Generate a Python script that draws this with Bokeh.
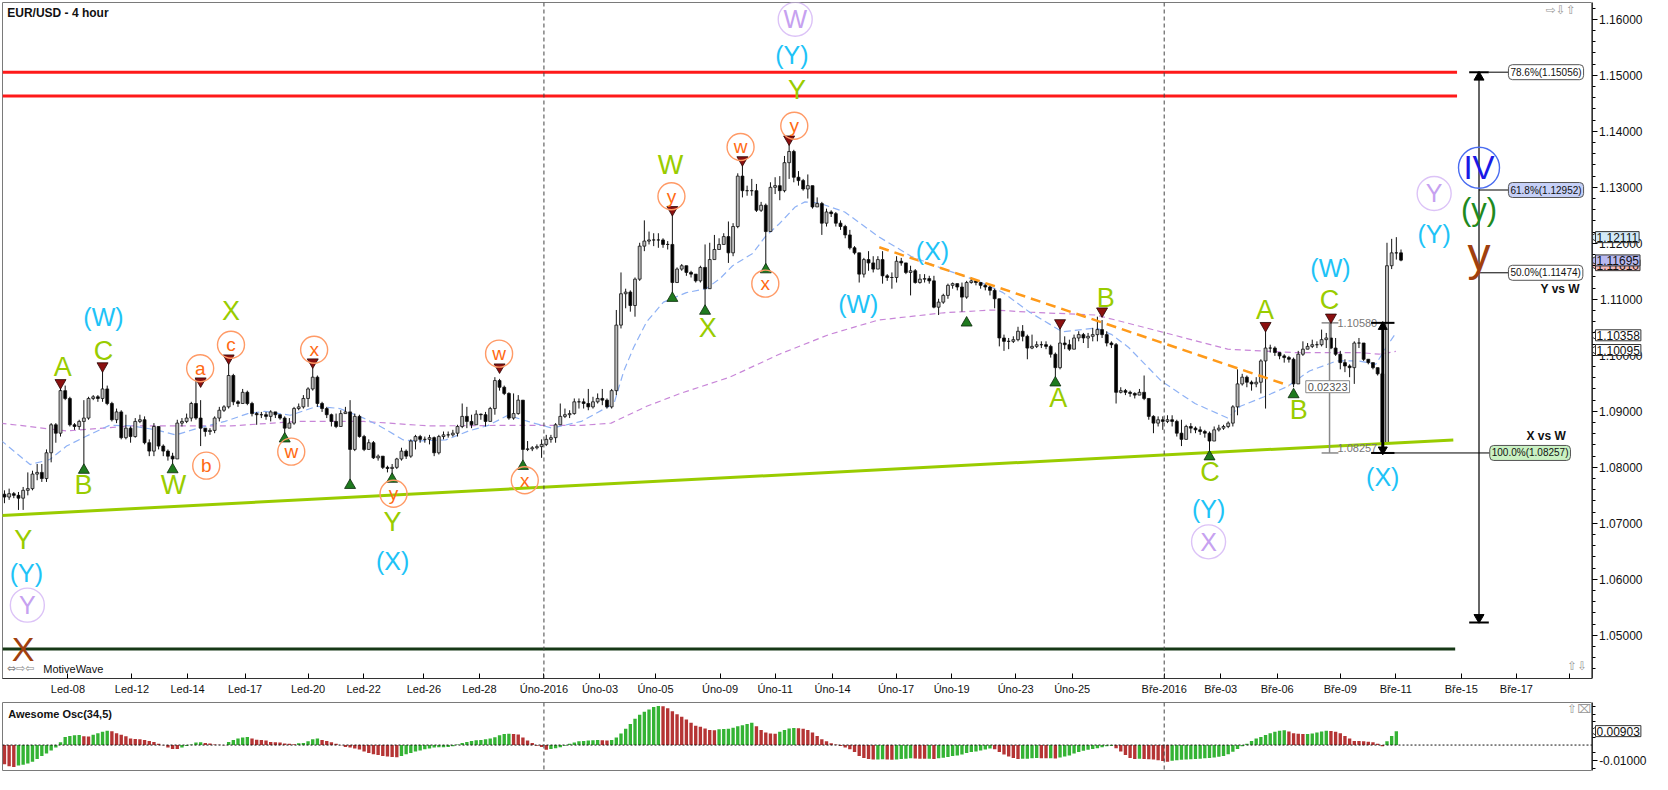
from bokeh.plotting import figure
from bokeh.models import (Range1d, FixedTicker, SingleIntervalTicker, PrintfTickFormatter,
                          Span, Label, ColumnDataSource)
from bokeh.layouts import column, row
from bokeh.embed import file_html
from bokeh.resources import INLINE
from bokeh.core.properties import value

FONT = "Liberation Sans"

# ---------------- price data (4h bars, EUR/USD) ----------------
closes = [
    1.0747, 1.0753, 1.0750, 1.0745, 1.0759, 1.0762, 1.0788, 1.0791, 1.0780, 1.0826,
    1.0876, 1.0861, 1.0937, 1.0923, 1.0876, 1.0873, 1.0882, 1.0888, 1.0923, 1.0926,
    1.0923, 1.0940, 1.0914, 1.0885, 1.0899, 1.0853, 1.0870, 1.0855, 1.0882, 1.0885,
    1.0844, 1.0829, 1.0873, 1.0838, 1.0829, 1.0820, 1.0815, 1.0879, 1.0882, 1.0888,
    1.0914, 1.0888, 1.0870, 1.0864, 1.0866, 1.0888, 1.0902, 1.0908, 1.0964, 1.0917,
    1.0914, 1.0934, 1.0914, 1.0896, 1.0894, 1.0894, 1.0891, 1.0899, 1.0894, 1.0888,
    1.0870, 1.0879, 1.0905, 1.0908, 1.0923, 1.0940, 1.0961, 1.0914, 1.0905, 1.0894,
    1.0882, 1.0873, 1.0896, 1.0899, 1.0832, 1.0891, 1.0855, 1.0832, 1.0844, 1.0817,
    1.0820, 1.0800, 1.0798, 1.0800, 1.0815, 1.0829, 1.0820, 1.0847, 1.0855, 1.0850,
    1.0850, 1.0853, 1.0826, 1.0855, 1.0858, 1.0858, 1.0861, 1.0873, 1.0891, 1.0882,
    1.0876, 1.0895, 1.0894, 1.0882, 1.0905, 1.0955, 1.0943, 1.0932, 1.0888, 1.0896,
    1.0920, 1.0832, 1.0833, 1.0835, 1.0837, 1.0841, 1.0850, 1.0853, 1.0876, 1.0891,
    1.0894, 1.0896, 1.0917, 1.0917, 1.0914, 1.0908, 1.0917, 1.0923, 1.0920, 1.0908,
    1.0937, 1.1054, 1.1110, 1.1113, 1.1089, 1.1136, 1.1195, 1.1204, 1.1206, 1.1206,
    1.1206, 1.1198, 1.1198, 1.1130, 1.1154, 1.1160, 1.1148, 1.1145, 1.1133, 1.1157,
    1.1119, 1.1171, 1.1189, 1.1198, 1.1212, 1.1183, 1.1230, 1.1320, 1.1294, 1.1294,
    1.1294, 1.1259, 1.1268, 1.1221, 1.1300, 1.1303, 1.1294, 1.1344, 1.1364, 1.1318,
    1.1312, 1.1297, 1.1303, 1.1265, 1.1271, 1.1236, 1.1256, 1.1253, 1.1236, 1.1230,
    1.1215, 1.1192, 1.1183, 1.1145, 1.1171, 1.1165, 1.1154, 1.1171, 1.1142, 1.1139,
    1.1139, 1.1168, 1.1165, 1.1148, 1.1151, 1.1130, 1.1136, 1.1137, 1.1133, 1.1086,
    1.1095, 1.1107, 1.1125, 1.1128, 1.1122, 1.1104, 1.1130, 1.1133, 1.1130, 1.1125,
    1.1122, 1.1116, 1.1101, 1.1031, 1.1025, 1.1025, 1.1028, 1.1043, 1.1034, 1.1013,
    1.1016, 1.1019, 1.1019, 1.1016, 1.1002, 1.0978, 1.1022, 1.1019, 1.1011, 1.1031,
    1.1037, 1.1031, 1.1034, 1.1037, 1.1046, 1.1037, 1.1022, 1.1019, 1.0934, 1.0937,
    1.0934, 1.0932, 1.0929, 1.0934, 1.0923, 1.0891, 1.0879, 1.0885, 1.0882, 1.0885,
    1.0882, 1.0861, 1.0850, 1.0873, 1.0870, 1.0867, 1.0864, 1.0861, 1.0847, 1.0867,
    1.0870, 1.0873, 1.0879, 1.0908, 1.0949, 1.0961, 1.0952, 1.0949, 1.0952, 1.0990,
    1.1013, 1.1013, 1.1005, 1.0999, 1.0996, 1.0993, 1.0949, 1.1002, 1.1011, 1.1016,
    1.1019, 1.1019, 1.1028, 1.1031, 1.1013, 1.1002, 1.0987, 1.0981, 1.0978, 1.1022,
    1.1022, 1.0993, 1.0987, 1.0978, 1.0967, 1.0844, 1.1160, 1.1183, 1.1183, 1.1170,
]
highs = [
    1.0759, 1.0762, 1.0756, 1.0756, 1.0765, 1.0791, 1.0794, 1.0806, 1.0806, 1.0832,
    1.0879, 1.0879, 1.0949, 1.0946, 1.0926, 1.0879, 1.0885, 1.0920, 1.0926, 1.0929,
    1.0929, 1.0975, 1.0946, 1.0917, 1.0905, 1.0902, 1.0894, 1.0873, 1.0888, 1.0894,
    1.0891, 1.0850, 1.0879, 1.0858, 1.0841, 1.0832, 1.0826, 1.0885, 1.0888, 1.0896,
    1.0917, 1.0958, 1.0920, 1.0870, 1.0870, 1.0891, 1.0908, 1.0911, 1.0990, 1.0967,
    1.0920, 1.0940, 1.0937, 1.0917, 1.0899, 1.0899, 1.0899, 1.0902, 1.0899, 1.0894,
    1.0891, 1.0888, 1.0908, 1.0914, 1.0929, 1.0943, 1.0978, 1.0964, 1.0917, 1.0908,
    1.0896, 1.0896, 1.0902, 1.0908, 1.0920, 1.0896, 1.0894, 1.0858, 1.0850, 1.0847,
    1.0823, 1.0820, 1.0803, 1.0806, 1.0817, 1.0835, 1.0832, 1.0850, 1.0858, 1.0858,
    1.0855, 1.0858, 1.0855, 1.0858, 1.0864, 1.0864, 1.0867, 1.0876, 1.0914, 1.0908,
    1.0894, 1.0902, 1.0896, 1.0899, 1.0908, 1.0961, 1.0958, 1.0946, 1.0934, 1.0932,
    1.0929, 1.0920, 1.0847, 1.0838, 1.0841, 1.0850, 1.0858, 1.0858, 1.0879, 1.0914,
    1.0905, 1.0902, 1.0923, 1.0923, 1.0923, 1.0940, 1.0926, 1.0932, 1.0940, 1.0923,
    1.0940, 1.1081, 1.1148, 1.1119, 1.1116, 1.1139, 1.1201, 1.1241, 1.1221, 1.1218,
    1.1218, 1.1209, 1.1204, 1.1259, 1.1157, 1.1163, 1.1160, 1.1151, 1.1145, 1.1160,
    1.1198, 1.1201, 1.1215, 1.1209, 1.1218, 1.1239, 1.1236, 1.1325, 1.1347, 1.1303,
    1.1315, 1.1306, 1.1274, 1.1271, 1.1309, 1.1318, 1.1320, 1.1356, 1.1379, 1.1367,
    1.1329, 1.1315, 1.1323, 1.1300, 1.1282, 1.1274, 1.1262, 1.1259, 1.1256, 1.1241,
    1.1233, 1.1224, 1.1195, 1.1183, 1.1174, 1.1186, 1.1177, 1.1177, 1.1186, 1.1145,
    1.1148, 1.1177, 1.1174, 1.1165, 1.1160, 1.1154, 1.1145, 1.1145, 1.1142, 1.1142,
    1.1101, 1.1110, 1.1128, 1.1130, 1.1125, 1.1130, 1.1133, 1.1139, 1.1133, 1.1130,
    1.1128, 1.1125, 1.1119, 1.1095, 1.1037, 1.1031, 1.1034, 1.1051, 1.1054, 1.1037,
    1.1037, 1.1025, 1.1025, 1.1025, 1.1019, 1.1005, 1.1051, 1.1034, 1.1028, 1.1037,
    1.1043, 1.1040, 1.1040, 1.1049, 1.1069, 1.1063, 1.1043, 1.1025, 1.1022, 1.0943,
    1.0940, 1.0937, 1.0934, 1.0940, 1.0964, 1.0923, 1.0893, 1.0891, 1.0891, 1.0893,
    1.0893, 1.0885, 1.0885, 1.0876, 1.0879, 1.0873, 1.0873, 1.0867, 1.0864, 1.0873,
    1.0876, 1.0876, 1.0882, 1.0911, 1.0975, 1.0967, 1.0964, 1.0955, 1.0961, 1.0993,
    1.1054, 1.1019, 1.1016, 1.1005, 1.1002, 1.0999, 1.0996, 1.1008, 1.1025, 1.1022,
    1.1028, 1.1025, 1.1046, 1.1040, 1.1066, 1.1031, 1.1008, 1.0993, 1.0984, 1.1025,
    1.1031, 1.1008, 1.0990, 1.0987, 1.0975, 1.0970, 1.1201, 1.1208, 1.1211, 1.1189,
]
lows = [
    1.0736, 1.0742, 1.0745, 1.0724, 1.0724, 1.0750, 1.0759, 1.0777, 1.0774, 1.0774,
    1.0809, 1.0844, 1.0855, 1.0920, 1.0873, 1.0867, 1.0867, 1.0800, 1.0885, 1.0920,
    1.0917, 1.0917, 1.0911, 1.0882, 1.0879, 1.0850, 1.0850, 1.0844, 1.0853, 1.0879,
    1.0841, 1.0820, 1.0820, 1.0832, 1.0820, 1.0812, 1.0806, 1.0815, 1.0873, 1.0879,
    1.0882, 1.0885, 1.0838, 1.0855, 1.0858, 1.0861, 1.0882, 1.0899, 1.0905, 1.0911,
    1.0908, 1.0914, 1.0911, 1.0891, 1.0876, 1.0888, 1.0885, 1.0882, 1.0888, 1.0885,
    1.0853, 1.0873, 1.0876, 1.0902, 1.0905, 1.0908, 1.0937, 1.0908, 1.0899, 1.0888,
    1.0873, 1.0870, 1.0873, 1.0896, 1.0768, 1.0829, 1.0853, 1.0829, 1.0832, 1.0815,
    1.0812, 1.0797, 1.0791, 1.0785, 1.0797, 1.0812, 1.0815, 1.0817, 1.0832, 1.0844,
    1.0844, 1.0841, 1.0820, 1.0823, 1.0850, 1.0853, 1.0855, 1.0855, 1.0870, 1.0870,
    1.0870, 1.0891, 1.0885, 1.0873, 1.0894, 1.0894, 1.0937, 1.0929, 1.0885, 1.0885,
    1.0894, 1.0812, 1.0829, 1.0829, 1.0832, 1.0817, 1.0838, 1.0844, 1.0844, 1.0879,
    1.0888, 1.0888, 1.0894, 1.0905, 1.0905, 1.0902, 1.0905, 1.0914, 1.0911, 1.0905,
    1.0905, 1.0929, 1.1048, 1.1084, 1.1078, 1.1069, 1.1133, 1.1186, 1.1198, 1.1195,
    1.1192, 1.1192, 1.1189, 1.1110, 1.1130, 1.1151, 1.1142, 1.1139, 1.1130, 1.1130,
    1.1081, 1.1119, 1.1171, 1.1192, 1.1201, 1.1165, 1.1177, 1.1227, 1.1282, 1.1285,
    1.1285, 1.1256, 1.1256, 1.1154, 1.1221, 1.1288, 1.1277, 1.1291, 1.1315, 1.1309,
    1.1303, 1.1294, 1.1280, 1.1262, 1.1265, 1.1215, 1.1230, 1.1247, 1.1230, 1.1224,
    1.1209, 1.1189, 1.1180, 1.1130, 1.1139, 1.1151, 1.1148, 1.1154, 1.1128, 1.1133,
    1.1119, 1.1130, 1.1160, 1.1145, 1.1107, 1.1128, 1.1128, 1.1130, 1.1128, 1.1084,
    1.1072, 1.1092, 1.1101, 1.1119, 1.1116, 1.1078, 1.1101, 1.1128, 1.1125, 1.1119,
    1.1116, 1.1107, 1.1084, 1.1016, 1.1008, 1.1011, 1.1022, 1.1025, 1.1025, 1.0993,
    1.1011, 1.1013, 1.1013, 1.1011, 1.0996, 1.0961, 1.0975, 1.1011, 1.1008, 1.1011,
    1.1025, 1.1022, 1.1013, 1.1025, 1.1025, 1.1031, 1.1016, 1.1013, 1.0914, 1.0932,
    1.0929, 1.0926, 1.0923, 1.0929, 1.0920, 1.0885, 1.0861, 1.0873, 1.0867, 1.0879,
    1.0873, 1.0855, 1.0838, 1.0850, 1.0861, 1.0861, 1.0858, 1.0853, 1.0829, 1.0847,
    1.0864, 1.0867, 1.0870, 1.0873, 1.0893, 1.0946, 1.0943, 1.0937, 1.0943, 1.0932,
    1.0905, 1.1005, 1.0999, 1.0993, 1.0987, 1.0987, 1.0943, 1.0949, 1.0999, 1.1011,
    1.1013, 1.1013, 1.1016, 1.1013, 1.1011, 1.0999, 1.0975, 1.0970, 1.0961, 1.0949,
    1.1013, 1.0990, 1.0984, 1.0975, 1.0964, 1.0826, 1.0847, 1.1154, 1.1171, 1.1168,
]
first_open = 1.0752

# moving averages (bar index, price)
blue_ma_x = [-0.85, 5.5, 9.7, 13.3, 17.6, 22.5, 27.3, 32.4, 36.7, 41.5, 47.2, 52.1, 55.7, 61.2, 66.9,
             71.8, 76.9, 80.3, 85.4, 88.1, 94.5, 99.4, 103.6, 107.8, 112.1, 117.2, 123.5, 130.5,
             132.6, 134.7, 137.5, 141.1, 146.0, 150.2, 153.2, 155.9, 160.2, 162.9, 165.9, 169.3,
             171.4, 174.4, 179.9, 187.1, 194.1, 201.1, 208.3, 213.8, 219.5, 226.5, 233.7, 237.1,
             240.7, 247.7, 254.9, 261.9, 264.6, 269.7, 274.6, 279.4, 285.2, 290.0, 293.6, 295.8, 297.9]
blue_ma_y = [1.0849, 1.0805, 1.0814, 1.0838, 1.0856, 1.0875, 1.0874, 1.0867, 1.0858, 1.0870, 1.0882,
             1.0896, 1.0900, 1.0893, 1.0909, 1.0905, 1.0888, 1.0874, 1.0849, 1.0847, 1.0849, 1.0865,
             1.0875, 1.0893, 1.0882, 1.0870, 1.0882, 1.0914, 1.0972, 1.1014, 1.1060, 1.1095, 1.1112,
             1.1119, 1.1137, 1.1160, 1.1182, 1.1212, 1.1235, 1.1265, 1.1274, 1.1272, 1.1256, 1.1212,
             1.1177, 1.1154, 1.1133, 1.1112, 1.1077, 1.1042, 1.1049, 1.1037, 1.1014, 1.0954, 1.0914,
             1.0888, 1.0909, 1.0926, 1.0944, 1.0972, 1.0990, 1.0990, 1.0984, 1.1014, 1.1040]
purple_ma_x = [-0.85, 13.3, 27.3, 48.5, 62.7, 76.9, 90.9, 108.7, 123.5, 129.9, 137.5, 144.7, 155.3,
               165.9, 176.5, 187.1, 201.1, 211.7, 219.5, 233.7, 247.7, 261.9, 276.1, 290.0, 294.3, 297.9]
purple_ma_y = [1.0879, 1.0865, 1.0874, 1.0874, 1.0882, 1.0882, 1.0874, 1.0875, 1.0875, 1.0879, 1.0909,
               1.0932, 1.0961, 1.1002, 1.1037, 1.1063, 1.1076, 1.1081, 1.1077, 1.1072, 1.1042, 1.1011,
               1.1005, 1.1005, 1.1002, 1.1007]

# Awesome oscillator (34,5)
ao_values = [
    -0.0124, -0.0137, -0.0143, -0.0133, -0.0127, -0.0120, -0.0108, -0.0090, -0.0071, -0.0055,
    -0.0035, -0.0016, 0.0018, 0.0053, 0.0059, 0.0063, 0.0065, 0.0057, 0.0055, 0.0067,
    0.0076, 0.0086, 0.0092, 0.0090, 0.0076, 0.0067, 0.0057, 0.0043, 0.0039, 0.0037,
    0.0033, 0.0027, 0.0020, 0.0008, -0.0002, -0.0016, -0.0025, -0.0026, -0.0016, -0.0006,
    0.0004, 0.0016, 0.0018, 0.0014, 0.0010, 0.0004, 0.0002, -0.0001, 0.0020, 0.0033,
    0.0043, 0.0049, 0.0053, 0.0043, 0.0035, 0.0033, 0.0029, 0.0020, 0.0018, 0.0016,
    0.0010, 0.0008, 0.0006, 0.0012, 0.0014, 0.0024, 0.0037, 0.0043, 0.0033, 0.0027,
    0.0018, 0.0008, -0.0001, -0.0012, -0.0016, -0.0022, -0.0029, -0.0041, -0.0051, -0.0059,
    -0.0065, -0.0071, -0.0075, -0.0078, -0.0079, -0.0071, -0.0059, -0.0051, -0.0041, -0.0035,
    -0.0027, -0.0022, -0.0016, -0.0015, -0.0014, -0.0012, -0.0008, 0.0004, 0.0014, 0.0020,
    0.0027, 0.0031, 0.0033, 0.0037, 0.0043, 0.0051, 0.0063, 0.0071, 0.0073, 0.0072,
    0.0069, 0.0049, 0.0029, 0.0014, -0.0004, -0.0012, -0.0031, -0.0025, -0.0020, -0.0014,
    -0.0004, 0.0008, 0.0016, 0.0024, 0.0027, 0.0030, 0.0031, 0.0032, 0.0031, 0.0030,
    0.0033, 0.0049, 0.0075, 0.0106, 0.0137, 0.0171, 0.0196, 0.0216, 0.0231, 0.0247,
    0.0253, 0.0251, 0.0239, 0.0220, 0.0200, 0.0184, 0.0165, 0.0145, 0.0125, 0.0118,
    0.0108, 0.0098, 0.0096, 0.0102, 0.0104, 0.0106, 0.0112, 0.0122, 0.0129, 0.0137,
    0.0145, 0.0122, 0.0098, 0.0082, 0.0075, 0.0073, 0.0086, 0.0098, 0.0108, 0.0110,
    0.0109, 0.0106, 0.0098, 0.0082, 0.0059, 0.0037, 0.0024, 0.0012, 0.0004, -0.0006,
    -0.0016, -0.0027, -0.0045, -0.0071, -0.0084, -0.0090, -0.0094, -0.0093, -0.0092, -0.0094,
    -0.0095, -0.0093, -0.0090, -0.0088, -0.0086, -0.0087, -0.0088, -0.0089, -0.0089, -0.0090,
    -0.0086, -0.0082, -0.0078, -0.0071, -0.0067, -0.0061, -0.0051, -0.0045, -0.0041, -0.0035,
    -0.0029, -0.0022, -0.0027, -0.0045, -0.0061, -0.0075, -0.0084, -0.0090, -0.0089, -0.0088,
    -0.0085, -0.0084, -0.0085, -0.0086, -0.0086, -0.0087, -0.0080, -0.0075, -0.0067, -0.0055,
    -0.0045, -0.0037, -0.0031, -0.0025, -0.0020, -0.0014, -0.0008, -0.0006, -0.0020, -0.0041,
    -0.0065, -0.0084, -0.0090, -0.0089, -0.0091, -0.0092, -0.0094, -0.0098, -0.0104, -0.0108,
    -0.0102, -0.0098, -0.0096, -0.0094, -0.0092, -0.0090, -0.0088, -0.0086, -0.0084, -0.0080,
    -0.0076, -0.0071, -0.0059, -0.0043, -0.0025, -0.0008, 0.0008, 0.0027, 0.0043, 0.0053,
    0.0065, 0.0076, 0.0086, 0.0092, 0.0096, 0.0088, 0.0076, 0.0073, 0.0071, 0.0072,
    0.0075, 0.0082, 0.0088, 0.0092, 0.0091, 0.0086, 0.0076, 0.0059, 0.0043, 0.0027,
    0.0026, 0.0025, 0.0022, 0.0018, 0.0008, -0.0008, 0.0025, 0.0059, 0.0090,
]

# date axis (bar index positions of the labels)
tick_pos = [13.6, 27.3, 39.2, 51.5, 65.0, 76.9, 89.8, 101.7, 115.5, 127.5, 139.4, 153.2, 165.0,
            177.3, 190.9, 202.8, 216.5, 228.6, 248.3, 260.4, 272.5, 286.0, 297.9, 311.9, 323.7, 335.0]
tick_labels = ["Led-08", "Led-12", "Led-14", "Led-17", "Led-20", "Led-22", "Led-26", "Led-28",
               "Úno-2016", "Úno-03", "Úno-05", "Úno-09", "Úno-11", "Úno-14", "Úno-17", "Úno-19",
               "Úno-23", "Úno-25", "Bře-2016", "Bře-03", "Bře-06", "Bře-09", "Bře-11", "Bře-15",
               "Bře-17", ""]
month_breaks = [115.5, 248.3]

# wave labels
wave_text = ["A", "C", "B", "W", "X", "Y", "Y", "W", "Y", "X", "A", "B", "C", "A", "B", "C",
             "(W)", "(Y)", "(X)", "(Y)", "(X)", "(W)", "(Y)", "(W)", "(X)", "(Y)",
             "a", "b", "c", "x", "w", "y", "w", "x", "y", "w", "y", "x",
             "Y", "W", "X", "Y",
             "X", "IV", "(y)", "y"]
wave_x = [12.5, 21.2, 16.9, 36.2, 48.5, 4.0, 83.1, 142.6, 169.7, 150.6, 225.6, 235.8, 258.1, 269.9, 277.1, 283.7,
          21.2, 4.7, 83.1, 168.6, 198.7, 182.8, 257.8, 283.9, 295.1, 306.1,
          41.9, 43.2, 48.5, 66.3, 61.4, 83.3, 105.9, 111.4, 142.8, 157.6, 169.1, 162.9,
          4.9, 169.3, 257.8, 306.1,
          4.0, 315.7, 315.7, 315.7]
wave_y = [1.0979, 1.1007, 1.0768, 1.0768, 1.1079, 1.0670, 1.0703, 1.1340, 1.1474, 1.1049, 1.0923, 1.1103,
          1.0791, 1.1081, 1.0902, 1.1098,
          1.1068, 1.0612, 1.0633, 1.1537, 1.1186, 1.1091, 1.0725, 1.1156, 1.0782, 1.1217,
          1.0977, 1.0803, 1.1019, 1.1010, 1.0828, 1.0753, 1.1003, 1.0777, 1.1284, 1.1372, 1.1410, 1.1128,
          1.0554, 1.1600, 1.0667, 1.1289,
          1.0475, 1.1335, 1.1261, 1.1181]
wave_kind = (["green"] * 16 + ["cyan"] * 10 + ["orange"] * 12 + ["purple"] * 4 +
             ["brown", "blue", "darkgreen", "brown_big"])

pivot_low_x = [17, 36, 60, 74, 83, 111, 143, 150, 163, 206, 225, 258, 276]
pivot_low_y = [1.0795, 1.0796, 1.0851, 1.0768, 1.0779, 1.0802, 1.1102, 1.1079, 1.1153, 1.1058, 1.0951, 1.0819, 1.0930]
pivot_high_x = [12, 21, 42, 48, 66, 106, 143, 158, 168, 226, 235, 270, 284]
pivot_high_y = [1.0951, 1.0981, 1.0954, 1.0995, 1.0988, 1.0979, 1.1260, 1.1349, 1.1386, 1.1058, 1.1079, 1.1053, 1.1068]

resistance_levels = [1.15053, 1.14632]
support_level = 1.04755
trend_x = [-0.85, 310.2]
trend_y = [1.0714, 1.0849]
orange_x = [187.3, 275.0]
orange_y = [1.1193, 1.0946]

fib_levels = [1.15056, 1.12952, 1.11474, 1.08257]
fib_texts = ["78.6%(1.15056)", "61.8%(1.12952)", "50.0%(1.11474)", "100.0%(1.08257)"]
fib_fills = ["white", "#c6d0f7", "white", "#c9f1c2"]
fib_bottom = 1.0523
measure_top = 1.10580
measure_low = 1.08257
measure_size = "0.02323"

axis_tags = [1.11610, 1.12111, 1.11695, 1.10358, 1.10095]
axis_tag_fills = ["#f3b9b9", "#d3eaf8", "#b9b9f0", "white", "white"]
ao_last = 0.00903

# ---------------- styling maps ----------------
kind_style = {
    "green": ("#99cc00", "27px"), "cyan": ("#1ec3f7", "25px"), "orange": ("#ff6a13", "19px"),
    "purple": ("#c6a1f0", "25px"), "blue": ("#1a1ae6", "33px"), "darkgreen": ("#1f8a1f", "31px"),
    "brown": ("#a0400e", "34px"), "brown_big": ("#a0400e", "46px"),
}
circle_style = {"orange": ("#ff9a66", 27), "purple": ("#dcc3f7", 34), "blue": ("#4a6cf0", 41)}

MAIN_W, AXIS_W = 1592, 60
TOP_H, OSC_H = 700, 72


def style_price_axis(ax, standoff):
    ax.formatter = PrintfTickFormatter(format="%.5f")
    ax.major_label_text_font = FONT
    ax.major_label_text_font_size = "12px"
    ax.major_label_text_color = "#111111"
    ax.major_tick_in = 5
    ax.major_tick_out = 0
    ax.minor_tick_in = 3
    ax.minor_tick_out = 0
    ax.major_label_standoff = standoff
    ax.axis_line_color = "#333333"


def add_tag(fig, y, text, fill):
    fig.scatter([1.6], [y], marker="triangle", angle=1.5708, size=9, fill_color=fill, line_color="#333333")
    fig.add_layout(Label(x=3.0, y=y, text=text, text_font=FONT, text_font_size="12px",
                         text_color="#111111", text_align="left", text_baseline="middle",
                         background_fill_color=fill, border_line_color="#333333", padding=1))


# ---------------- main price panel ----------------
X0, X1 = -0.42, 340.0
p = figure(width=MAIN_W, height=TOP_H, x_range=Range1d(X0, X1), y_range=Range1d(1.0423, 1.1630),
           output_backend="svg", toolbar_location=None, y_axis_location=None,
           min_border_left=2, min_border_right=0, min_border_top=2, min_border_bottom=22)
p.xgrid.visible = False
p.ygrid.visible = False
p.outline_line_color = "#7a7a7a"

xax = p.xaxis[0]
xax.ticker = FixedTicker(ticks=tick_pos)
xax.major_label_overrides = {t: l for t, l in zip(tick_pos, tick_labels)}
xax.major_label_text_font = FONT
xax.major_label_text_font_size = "11px"
xax.major_label_text_color = "#111111"
xax.major_tick_in = 5
xax.major_tick_out = 0
xax.minor_tick_line_color = None
xax.major_label_standoff = 4
xax.axis_line_color = "#333333"

for m in month_breaks:
    p.add_layout(Span(location=m, dimension="height", line_color="#444444", line_dash="4 3", line_width=1))

# horizontal levels
for lv in resistance_levels:
    p.segment(x0=X0, y0=lv, x1=311.0, y1=lv, line_color="#ff1a1a", line_width=3)
p.segment(x0=X0, y0=support_level, x1=310.6, y1=support_level, line_color="#163816", line_width=3)

# moving averages
p.line(purple_ma_x, purple_ma_y, line_color="#c886d8", line_width=1.2, line_dash="6 4")
p.line(blue_ma_x, blue_ma_y, line_color="#8fb2f5", line_width=1.2, line_dash="7 4")

# candles
bars = list(range(len(closes)))
opens = [first_open] + closes[:-1]
src = ColumnDataSource(dict(
    x=bars,
    top=[max(o, c) for o, c in zip(opens, closes)],
    bottom=[min(o, c) for o, c in zip(opens, closes)],
    hi=[max(h, o, c) for h, o, c in zip(highs, opens, closes)],
    lo=[min(l, o, c) for l, o, c in zip(lows, opens, closes)],
    fill=["#bdbdbd" if c >= o else "#000000" for o, c in zip(opens, closes)],
))
p.segment(x0="x", y0="lo", x1="x", y1="hi", source=src, line_color="#111111", line_width=1)
p.vbar(x="x", top="top", bottom="bottom", width=0.62, source=src,
       fill_color="fill", line_color="#111111", line_width=0.8)

# trend lines
p.line(trend_x, trend_y, line_color="#99cc00", line_width=3)
p.line(orange_x, orange_y, line_color="#ff9a1a", line_width=2.5, line_dash="10 6")

# measure tool (gray)
p.segment(x0=283.7, y0=measure_low, x1=283.7, y1=measure_top, line_color="#888888", line_width=1.5)
for lv in (measure_top, measure_low):
    p.segment(x0=282.0, y0=lv, x1=285.6, y1=lv, line_color="#888888", line_width=1.5)
p.text(x=[285.4, 285.4], y=[measure_top, measure_low + 0.0009], text=["1.10580", "1.08257"],
       text_font=value(FONT), text_font_size="11px", text_color="#777777",
       text_align="left", text_baseline="middle")
p.add_layout(Label(x=283.3, y=1.0944, text=measure_size, text_font=FONT, text_font_size="11px",
                   text_color="#555555", text_align="center", text_baseline="middle",
                   background_fill_color="white", border_line_color="#888888", padding=2))

# X-vs-W measure (black)
p.segment(x0=295.1, y0=measure_low, x1=295.1, y1=measure_top, line_color="black", line_width=3)
for lv in (measure_top, measure_low):
    p.segment(x0=292.6, y0=lv, x1=297.6, y1=lv, line_color="black", line_width=2)
p.scatter([295.1], [measure_top - 0.0007], marker="triangle", size=9, fill_color="black", line_color="black")
p.scatter([295.1], [measure_low + 0.0006], marker="inverted_triangle", size=9, fill_color="black", line_color="black")

# Fibonacci projection
FX = 315.7
p.segment(x0=FX, y0=fib_levels[0], x1=FX, y1=fib_bottom, line_color="black", line_width=1.2)
for lv in (fib_levels[0], fib_bottom):
    p.segment(x0=313.6, y0=lv, x1=317.8, y1=lv, line_color="black", line_width=2)
p.scatter([FX], [fib_levels[0] - 0.0009], marker="triangle", size=10, fill_color="black", line_color="black")
p.scatter([FX], [fib_bottom + 0.0009], marker="inverted_triangle", size=10, fill_color="black", line_color="black")
p.segment(x0=[317.8, FX, FX, 293.6], y0=fib_levels, x1=[322.0, 322.0, 322.0, 318.0], y1=fib_levels,
          line_color="black", line_width=1)
for lv, t, f, fx in zip(fib_levels, fib_texts, fib_fills, [322.0, 322.0, 322.0, 318.0]):
    p.add_layout(Label(x=fx, y=lv, text=t, text_font=FONT, text_font_size="10px", text_color="#111111",
                       text_align="left", text_baseline="middle", background_fill_color=f,
                       border_line_color="#555555", padding=2, border_radius=4))
p.text(x=[337.3, 334.3], y=[1.1119, 1.0856], text=["Y vs W", "X vs W"], text_font=value(FONT),
       text_font_size="12px", text_font_style="bold", text_color="#111111",
       text_align="right", text_baseline="middle")

# pivots
p.scatter(pivot_low_x, pivot_low_y, marker="triangle", size=11, fill_color="#1f7a1f", line_color="#0b2a0b", line_width=0.8)
p.scatter(pivot_high_x, pivot_high_y, marker="inverted_triangle", size=11, fill_color="#8b1010", line_color="#2a0505", line_width=0.8)

# wave labels
circ_x, circ_y, circ_c, circ_s = [], [], [], []
for x, y, k in zip(wave_x, wave_y, wave_kind):
    if k in circle_style:
        circ_x.append(x)
        circ_y.append(y)
        circ_c.append(circle_style[k][0])
        circ_s.append(circle_style[k][1])
p.scatter(circ_x, circ_y, size=circ_s, marker="circle", fill_alpha=0, line_color=circ_c, line_width=1.4)
wsrc = ColumnDataSource(dict(x=wave_x, y=wave_y, text=wave_text,
                             color=[kind_style[k][0] for k in wave_kind],
                             size=[kind_style[k][1] for k in wave_kind]))
p.text(x="x", y="y", text="text", source=wsrc, text_color="color", text_font_size="size",
       text_font=value(FONT), text_align="center", text_baseline="middle")

# captions
p.add_layout(Label(x=0.6, y=1.1612, text="EUR/USD - 4 hour", text_font=FONT, text_font_size="12px",
                   text_font_style="bold", text_color="#111111", text_baseline="middle"))
p.add_layout(Label(x=0.5, y=1.0440, text="⇔⇨⇦", text_font="DejaVu Sans", text_font_size="11px",
                   text_color="#888888", text_baseline="middle"))
p.add_layout(Label(x=8.3, y=1.0440, text="MotiveWave", text_font=FONT, text_font_size="11px",
                   text_color="#111111", text_baseline="middle"))
p.add_layout(Label(x=330.0, y=1.1616, text="⇨⇩⇧", text_font="DejaVu Sans", text_font_size="12px",
                   text_color="#999999", text_baseline="middle"))
p.add_layout(Label(x=334.6, y=1.0445, text="⇧⇩", text_font="DejaVu Sans", text_font_size="12px",
                   text_color="#999999", text_baseline="middle"))

# ---------------- price axis strip (real axis + last-value tags) ----------------
pr = figure(width=AXIS_W, height=TOP_H, x_range=Range1d(0, AXIS_W), y_range=p.y_range,
            output_backend="svg", toolbar_location=None, y_axis_location="left",
            min_border_left=0, min_border_right=0, min_border_top=2, min_border_bottom=22)
pr.xaxis.visible = False
pr.xgrid.visible = False
pr.ygrid.visible = False
pr.outline_line_color = None
pr.yaxis[0].ticker = SingleIntervalTicker(interval=0.01, num_minor_ticks=5)
style_price_axis(pr.yaxis[0], -50)
for lv, f in zip(axis_tags, axis_tag_fills):
    add_tag(pr, lv, f"{lv:.5f}", f)

# ---------------- Awesome oscillator panel ----------------
q = figure(width=MAIN_W, height=OSC_H, x_range=p.x_range, y_range=Range1d(-0.0165, 0.0276),
           output_backend="svg", toolbar_location=None, y_axis_location=None,
           min_border_left=2, min_border_right=0, min_border_top=2, min_border_bottom=2)
q.xgrid.visible = False
q.ygrid.visible = False
q.xaxis.visible = False
q.outline_line_color = "#7a7a7a"

ao_x = list(range(len(ao_values)))
ao_col = ["#b53434" if i == 0 or v < ao_values[i - 1] else "#34b334" for i, v in enumerate(ao_values)]
q.vbar(x=ao_x, top=ao_values, bottom=0, width=0.72, fill_color=ao_col, line_color=None)
q.add_layout(Span(location=0, dimension="width", line_color="#111111", line_dash="2 2", line_width=1))
for m in month_breaks:
    q.add_layout(Span(location=m, dimension="height", line_color="#444444", line_dash="4 3", line_width=1))
q.add_layout(Label(x=0.8, y=0.0200, text="Awesome Osc(34,5)", text_font=FONT, text_font_size="11px",
                   text_font_style="bold", text_color="#111111", text_baseline="middle"))
q.add_layout(Label(x=334.6, y=0.0235, text="⇧⌧", text_font="DejaVu Sans", text_font_size="12px",
                   text_color="#999999", text_baseline="middle"))

qr = figure(width=AXIS_W, height=OSC_H, x_range=Range1d(0, AXIS_W), y_range=q.y_range,
            output_backend="svg", toolbar_location=None, y_axis_location="left",
            min_border_left=0, min_border_right=0, min_border_top=2, min_border_bottom=2)
qr.xaxis.visible = False
qr.xgrid.visible = False
qr.ygrid.visible = False
qr.outline_line_color = None
qr.yaxis[0].ticker = FixedTicker(ticks=[-0.01], minor_ticks=[-0.015, -0.005, 0.005, 0.015, 0.02, 0.025])
style_price_axis(qr.yaxis[0], -54)
add_tag(qr, ao_last, f"{ao_last:.5f}", "white")

layout = column(row(p, pr, spacing=0), row(q, qr, spacing=0), spacing=0)
open("out.html", "w").write(file_html(layout, INLINE))
